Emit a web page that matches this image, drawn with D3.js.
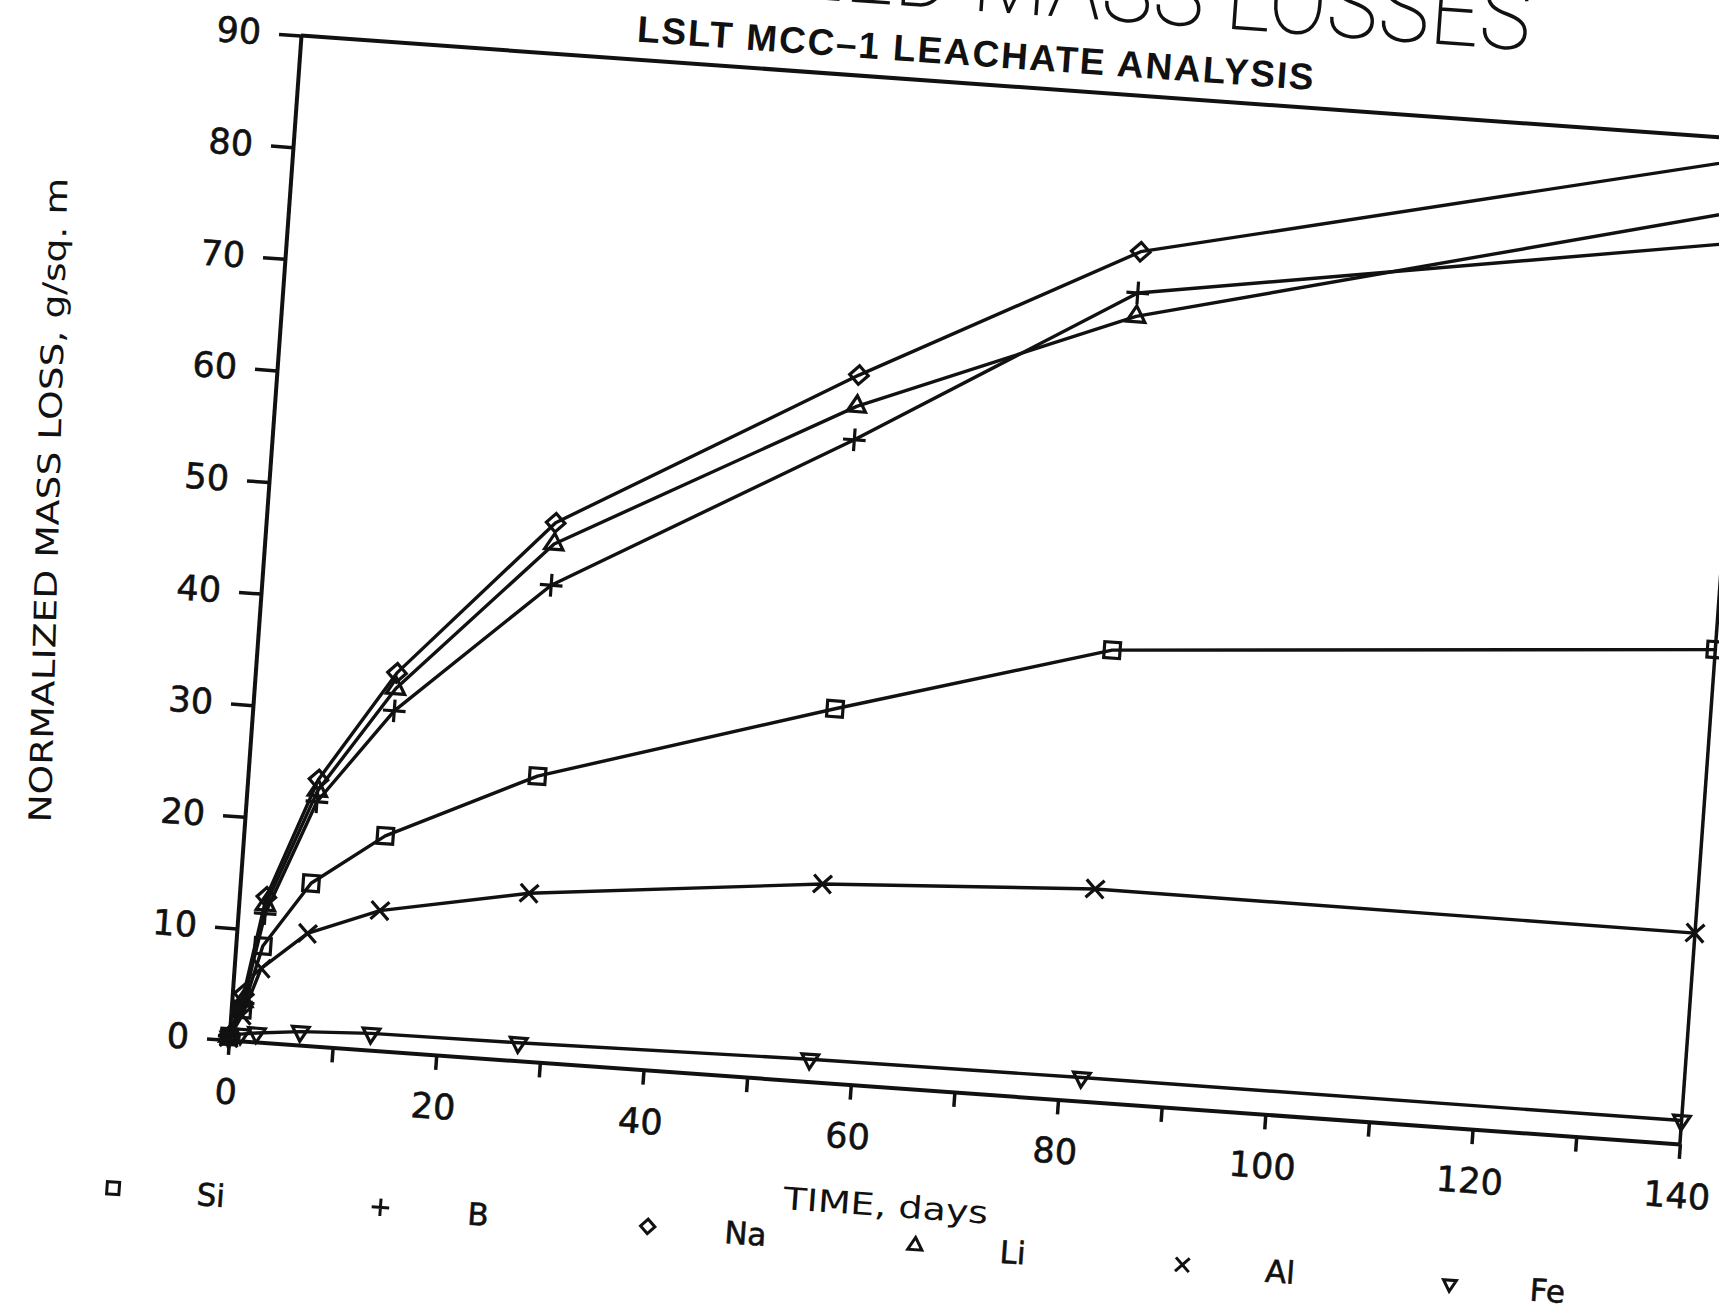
<!DOCTYPE html>
<html>
<head>
<meta charset="utf-8">
<script src="https://cdn.jsdelivr.net/npm/d3@7"></script>
<style>
  body { margin: 0; background: #fff; }
  svg { display: block; }
</style>
</head>
<body>
<svg id="chart"></svg>
<script>
// sampling times (days) shared by all elements
const days = [0, 1.1, 2.6, 6.8, 13.6, 27.8, 55.9, 82.1, 140];

// normalized mass loss, g/sq. m
const si = [0.3, 2.8, 8.6, 14.5, 19.2, 25.5, 33.4, 40.4, 44.3];
const b  = [0.3, 3.4, 11.5, 21.8, 30.4, 42.6, 57.5, 72.4, 80.8];
const na = [0.4, 4.2, 13.0, 23.8, 33.8, 48.2, 63.3, 76.1, 88.3];
const li = [0.3, 3.6, 12.3, 22.8, 32.4, 46.3, 60.5, 70.3, 83.7];
const al = [0.2, 2.3, 6.6, 10.0, 12.5, 15.0, 17.7, 19.0, 18.9];
const fe = [0.2, 0.6, 0.8, 1.2, 1.5, 1.6, 2.0, 2.1, 2.1];

const elements = ["Si", "B", "Na", "Li", "Al", "Fe"];
const xTicks = d3.range(0, 141, 10);
const yTicks = d3.range(0, 91, 10);

let width = 1719,
    height = 1309,
    svg = d3.select("#chart")
        .attr("width", width)
        .attr("height", height);

svg.append("rect").attr("width", width).attr("height", height).attr("fill", "#fff");

// the scanned page sits a little rotated, so the whole plot is drawn in a rotated frame
let g = svg.append("g")
    .attr("transform", "translate(229,1040) rotate(4.1)");

let x = d3.scaleLinear().domain([0, 140]).range([0, 1454.6]);
let y = d3.scaleLinear().domain([0, 90]).range([0, -1007]);

let ink = "#111";

//////////////////////////////////////////////////////////// symbols
let downTriangle = {
    draw(context, size) {
        let s = Math.sqrt(size) * 0.6824, t = s / 2, u = s * Math.sqrt(3) / 2;
        context.moveTo(0, s);
        context.lineTo(-u, -t);
        context.lineTo(u, -t);
        context.closePath();
    }
};
let symbols = {
    Si: [d3.symbolSquare2, 320],
    B:  [d3.symbolPlus, 170],
    Na: [d3.symbolDiamond2, 220],
    Li: [d3.symbolTriangle2, 240],
    Al: [d3.symbolTimes, 210],
    Fe: [downTriangle, 200]
};

let series = [
    {name: "Si", values: si},
    {name: "B",  values: b},
    {name: "Na", values: na},
    {name: "Li", values: li},
    {name: "Al", values: al},
    {name: "Fe", values: fe}
];

//////////////////////////////////////////////////////////// axes
let xAxis = d3.axisBottom(x)
    .tickValues(xTicks)
    .tickSize(15)
    .tickSizeOuter(0)
    .tickPadding(24)
    .tickFormat(d => d % 20 === 0 ? d : "");

let yAxis = d3.axisLeft(y)
    .tickValues(yTicks)
    .tickSize(22)
    .tickSizeOuter(0)
    .tickPadding(18);

let gx = g.append("g").call(xAxis);
let gy = g.append("g").call(yAxis);

[gx, gy].forEach(a => {
    a.selectAll("path.domain").attr("stroke", ink).attr("stroke-width", 4);
    a.selectAll(".tick line").attr("stroke", ink).attr("stroke-width", 3.5);
    a.selectAll(".tick text")
        .attr("fill", ink)
        .attr("stroke", ink)
        .attr("stroke-width", 0.6)
        .style("font-family", "'DejaVu Sans', sans-serif")
        .style("font-size", "35px");
});

// top and right sides of the box
g.append("line")
    .attr("x1", x(0)).attr("x2", x(140))
    .attr("y1", y(90)).attr("y2", y(90))
    .attr("stroke", ink).attr("stroke-width", 4);
g.append("line")
    .attr("x1", x(140)).attr("x2", x(140))
    .attr("y1", y(0)).attr("y2", y(90))
    .attr("stroke", ink).attr("stroke-width", 3.5);

//////////////////////////////////////////////////////////// data
let line = d3.line()
    .x((d, i) => x(days[i]))
    .y(d => y(d));

series.forEach(s => {
    g.append("path")
        .datum(s.values)
        .attr("d", line)
        .attr("fill", "none")
        .attr("stroke", ink)
        .attr("stroke-width", 3.4)
        .attr("stroke-linejoin", "round");

    let sym = d3.symbol().type(symbols[s.name][0]).size(symbols[s.name][1]);
    g.append("g")
        .selectAll("path")
        .data(s.values)
        .enter().append("path")
        .attr("transform", (d, i) => "translate(" + x(days[i]) + "," + y(d) + ")")
        .attr("d", sym)
        .attr("fill", "none")
        .attr("stroke", ink)
        .attr("stroke-width", 3.2);
});

//////////////////////////////////////////////////////////// texts
g.append("text")
    .attr("x", 1226).attr("y", -1080)
    .attr("text-anchor", "end")
    .attr("textLength", 1114)
    .attr("lengthAdjust", "spacingAndGlyphs")
    .attr("fill", ink)
    .style("font-family", "Roboto, 'Liberation Sans Narrow', sans-serif")
    .style("font-weight", 200)
    .style("font-size", "96px")
    .text("NORMALIZED MASS LOSSES");

g.append("text")
    .attr("x", 335).attr("y", -1025)
    .attr("textLength", 678)
    .attr("lengthAdjust", "spacing")
    .attr("fill", ink)
    .style("font-family", "'Liberation Sans Narrow', 'Liberation Sans', sans-serif")
    .style("font-weight", "bold")
    .style("font-size", "37px")
    .text("LSLT MCC–1 LEACHATE ANALYSIS");

g.append("text")
    .attr("transform", "translate(-208,-526) rotate(-92.6)")
    .attr("text-anchor", "middle")
    .attr("textLength", 645)
    .attr("lengthAdjust", "spacingAndGlyphs")
    .attr("fill", ink)
    .style("font-family", "'DejaVu Sans', sans-serif")
    .style("font-size", "31px")
    .text("NORMALIZED MASS LOSS, g/sq. m");

g.append("text")
    .attr("x", 667).attr("y", 129)
    .attr("text-anchor", "middle")
    .attr("textLength", 205)
    .attr("lengthAdjust", "spacingAndGlyphs")
    .attr("fill", ink)
    .style("font-family", "'DejaVu Sans', sans-serif")
    .style("font-size", "31px")
    .text("TIME, days");

//////////////////////////////////////////////////////////// legend
let legend = g.append("g")
    .selectAll("g")
    .data(elements)
    .enter().append("g")
    .attr("transform", (d, i) => "translate(" + (-105 + i * 268) + ",156)");

legend.append("path")
    .attr("d", d => d3.symbol().type(symbols[d][0]).size(symbols[d][1] * 0.6)())
    .attr("fill", "none")
    .attr("stroke", ink)
    .attr("stroke-width", 3);

legend.append("text")
    .attr("x", 98).attr("y", 11)
    .attr("text-anchor", "middle")
    .attr("fill", ink)
    .attr("stroke", ink)
    .attr("stroke-width", 0.6)
    .style("font-family", "'DejaVu Sans', sans-serif")
    .style("font-size", "31px")
    .text(d => d);
</script>
</body>
</html>
